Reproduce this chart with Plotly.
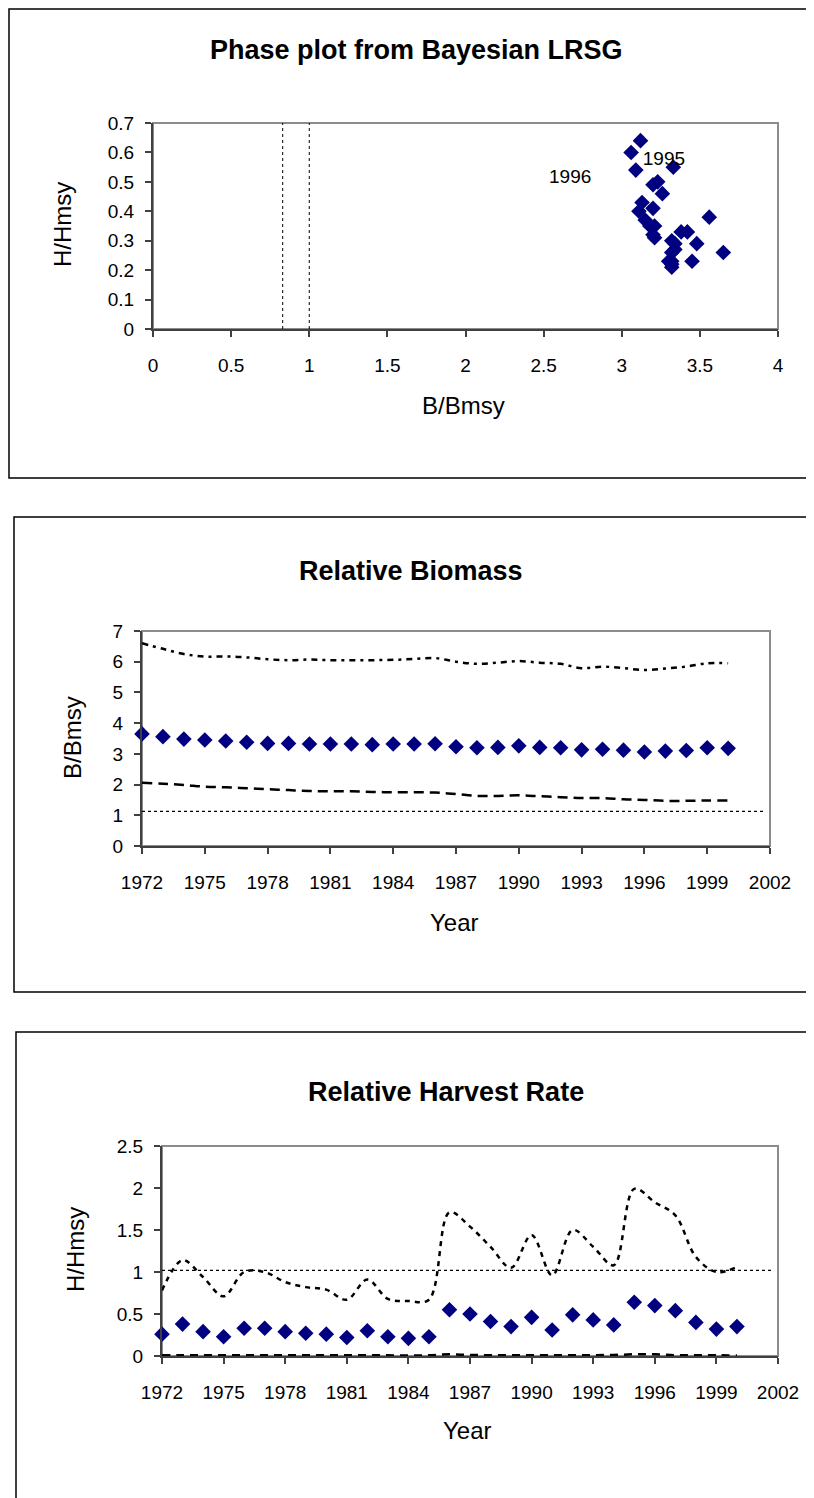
import plotly.graph_objects as go

W, H = 814, 1498
OFF = 8  # page body margin offset in the browser

years = list(range(1972, 2001))

# Relative biomass (B/Bmsy) median and bounds
b_mid = [3.65, 3.56, 3.48, 3.45, 3.42, 3.38, 3.34, 3.34, 3.32, 3.32,
         3.32, 3.30, 3.32, 3.32, 3.33, 3.23, 3.20, 3.21, 3.26, 3.21,
         3.20, 3.13, 3.15, 3.12, 3.06, 3.09, 3.11, 3.20, 3.18]
b_upper = [6.60, 6.42, 6.25, 6.17, 6.17, 6.14, 6.08, 6.05, 6.07, 6.05,
           6.05, 6.05, 6.06, 6.09, 6.12, 6.00, 5.93, 5.97, 6.02, 5.97,
           5.93, 5.79, 5.84, 5.79, 5.73, 5.78, 5.84, 5.95, 5.95]
b_lower = [2.06, 2.03, 1.99, 1.93, 1.91, 1.88, 1.85, 1.82, 1.79, 1.78,
           1.78, 1.76, 1.75, 1.75, 1.74, 1.69, 1.63, 1.63, 1.65, 1.62,
           1.59, 1.56, 1.56, 1.52, 1.50, 1.47, 1.47, 1.48, 1.48]
b_ref = 1.13

# Relative harvest rate (H/Hmsy) median and bounds
h_mid = [0.26, 0.38, 0.29, 0.23, 0.33, 0.33, 0.29, 0.27, 0.26, 0.22,
         0.30, 0.23, 0.21, 0.23, 0.55, 0.50, 0.41, 0.35, 0.46, 0.31,
         0.49, 0.43, 0.37, 0.64, 0.60, 0.54, 0.40, 0.32, 0.35]
h_upper = [0.78, 1.14, 0.94, 0.71, 1.00, 1.00, 0.88, 0.82, 0.79, 0.67,
           0.91, 0.68, 0.655, 0.67, 1.71, 1.54, 1.30, 1.05, 1.44, 0.96,
           1.50, 1.30, 1.08, 1.99, 1.83, 1.675, 1.18, 1.00, 1.06]
h_lower = [0.008, 0.008, 0.008, 0.008, 0.008, 0.008, 0.008, 0.008, 0.008, 0.008,
           0.008, 0.008, 0.006, 0.008, 0.02, 0.012, 0.01, 0.01, 0.01, 0.008,
           0.01, 0.01, 0.012, 0.02, 0.02, 0.01, 0.01, 0.008, 0.006]
h_ref = 1.02

# Phase plot reference lines (B/Bmsy) and labels
phase_vlines = [0.83, 1.0]
phase_labels = ["1995", "1996"]
phase_label_x = [3.27, 2.67]
phase_label_y = [0.574, 0.512]

NAVY = "#000080"
FONT = "Liberation Sans, Arial, sans-serif"


def px(x):
    return (x - OFF) / W


def py(y):
    return 1 - (y - OFF) / H


def xd(a, b):
    return [px(a), px(b)]


def yd(top, bottom):
    return [py(bottom), py(top)]


fig = go.Figure()

# ---------- Panel 1: phase plot ----------
for xv in phase_vlines:
    fig.add_trace(go.Scatter(x=[xv, xv], y=[0, 0.7], mode="lines",
                             line=dict(color="black", width=1, dash="dot"),
                             xaxis="x", yaxis="y", showlegend=False, hoverinfo="skip"))
fig.add_trace(go.Scatter(x=b_mid, y=h_mid, mode="markers",
                         marker=dict(symbol="diamond", size=12, color=NAVY),
                         xaxis="x", yaxis="y", showlegend=False, cliponaxis=False))
fig.add_trace(go.Scatter(x=phase_label_x, y=phase_label_y, mode="text",
                         text=phase_labels, textfont=dict(family=FONT, size=19, color="black"),
                         xaxis="x", yaxis="y", showlegend=False, cliponaxis=False))

# ---------- Panel 2: relative biomass ----------
fig.add_trace(go.Scatter(x=[1972, 2001.8], y=[b_ref, b_ref], mode="lines",
                         line=dict(color="black", width=1.2, dash="dot"),
                         xaxis="x2", yaxis="y2", showlegend=False))
fig.add_trace(go.Scatter(x=years, y=b_upper, mode="lines", line_shape="spline",
                         line=dict(color="black", width=2.5, dash="6px,5px,3px,5px"),
                         xaxis="x2", yaxis="y2", showlegend=False))
fig.add_trace(go.Scatter(x=years, y=b_lower, mode="lines", line_shape="spline",
                         line=dict(color="black", width=2.5, dash="10px,6px"),
                         xaxis="x2", yaxis="y2", showlegend=False))
fig.add_trace(go.Scatter(x=years, y=b_mid, mode="markers",
                         marker=dict(symbol="diamond", size=12, color=NAVY),
                         xaxis="x2", yaxis="y2", showlegend=False, cliponaxis=False))

# ---------- Panel 3: relative harvest rate ----------
fig.add_trace(go.Scatter(x=[1972, 2001.8], y=[h_ref, h_ref], mode="lines",
                         line=dict(color="black", width=1.2, dash="dot"),
                         xaxis="x3", yaxis="y3", showlegend=False))
fig.add_trace(go.Scatter(x=years, y=h_upper, mode="lines", line_shape="spline",
                         line=dict(color="black", width=2.5, dash="5px,5px"),
                         xaxis="x3", yaxis="y3", showlegend=False))
fig.add_trace(go.Scatter(x=years, y=h_lower, mode="lines", line_shape="spline",
                         line=dict(color="black", width=2.5, dash="8px,6px"),
                         xaxis="x3", yaxis="y3", showlegend=False, cliponaxis=False))
fig.add_trace(go.Scatter(x=years, y=h_mid, mode="markers",
                         marker=dict(symbol="diamond", size=12, color=NAVY),
                         xaxis="x3", yaxis="y3", showlegend=False, cliponaxis=False))

axis_common = dict(showgrid=False, zeroline=False, showline=True, linecolor="#404040",
                   linewidth=2, ticks="outside", ticklen=6, tickwidth=1.5,
                   tickcolor="#404040", tickfont=dict(family=FONT, size=19, color="black"),
                   fixedrange=True, automargin=False)

fig.update_layout(
    template="none",
    width=W, height=H, margin=dict(l=0, r=0, t=0, b=0, pad=0, autoexpand=False),
    paper_bgcolor="white", plot_bgcolor="white",
    font=dict(family=FONT, color="black"),
    xaxis=dict(domain=xd(153, 778), range=[0, 4], dtick=0.5, tick0=0, anchor="y",
               ticklabelstandoff=12, **axis_common),
    yaxis=dict(domain=yd(123, 329), range=[0, 0.7], dtick=0.1, tick0=0, anchor="x",
               ticklabelstandoff=7, **axis_common),
    xaxis2=dict(domain=xd(142, 770), range=[1972, 2002], dtick=3, tick0=1972, anchor="y2",
                ticklabelstandoff=12, **axis_common),
    yaxis2=dict(domain=yd(631, 846), range=[0, 7], dtick=1, tick0=0, anchor="x2",
                ticklabelstandoff=7, **axis_common),
    xaxis3=dict(domain=xd(162, 778), range=[1972, 2002], dtick=3, tick0=1972, anchor="y3",
                ticklabelstandoff=12, **axis_common),
    yaxis3=dict(domain=yd(1146, 1356), range=[0, 2.5], dtick=0.5, tick0=0, anchor="x3",
                ticklabelstandoff=7, **axis_common),
)

shapes = []
# plot-area borders (gray)
for xr, yr in [("x domain", "y domain"), ("x2 domain", "y2 domain"), ("x3 domain", "y3 domain")]:
    shapes.append(dict(type="rect", xref=xr, yref=yr, x0=0, x1=1, y0=0, y1=1,
                       line=dict(color="#8c8c8c", width=2), layer="below"))
# panel frames (left, top, right, bottom in page pixels)
frames = [(9, 9, 840, 478), (14, 517, 840, 992), (16, 1032, 840, 1530)]
for x0, y0, x1, y1 in frames:
    shapes.append(dict(type="rect", xref="paper", yref="paper",
                       x0=px(x0), x1=px(x1), y0=py(y1), y1=py(y0),
                       line=dict(color="black", width=1.5), layer="below"))
fig.update_layout(shapes=shapes)

ann = []


def add_text(text, x, y, size, bold=False, angle=0):
    ann.append(dict(text=f"<b>{text}</b>" if bold else text, x=px(x), y=py(y),
                    xref="paper", yref="paper", showarrow=False,
                    xanchor="center", yanchor="middle", textangle=angle,
                    font=dict(family=FONT, size=size, color="black")))


add_text("Phase plot from Bayesian LRSG", 417, 50, 27, bold=True)
add_text("B/Bmsy", 463, 405, 24)
add_text("H/Hmsy", 63, 225, 24, angle=-90)

add_text("Relative Biomass", 411, 571, 27, bold=True)
add_text("Year", 454, 922, 24)
add_text("B/Bmsy", 72, 738, 24, angle=-90)

add_text("Relative Harvest Rate", 446, 1092, 27, bold=True)
add_text("Year", 467, 1430, 24)
add_text("H/Hmsy", 75, 1250, 24, angle=-90)

fig.update_layout(annotations=ann)

fig.write_html("out.html")
